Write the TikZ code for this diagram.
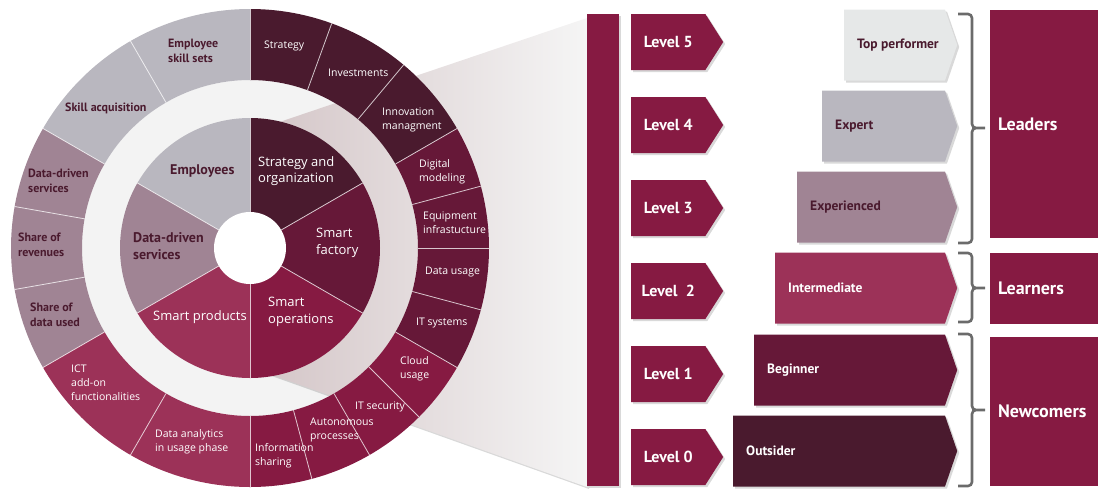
\documentclass[tikz,border=0pt]{standalone}
\usepackage{fontspec}
\setmainfont{PT Sans}
\newfontfamily\segfont{Open Sans}
\usetikzlibrary{shapes.symbols,shadows,positioning}
\definecolor{plumA}{HTML}{4A1A2E}
\definecolor{plumB}{HTML}{661838}
\definecolor{plumC}{HTML}{861A42}
\definecolor{plumD}{HTML}{9C3258}
\definecolor{mauve}{HTML}{A08494}
\definecolor{greyE}{HTML}{B9B7BF}
\definecolor{greyT}{HTML}{E6E8E8}
\definecolor{gapC}{HTML}{F3F3F3}
\definecolor{zoomL}{HTML}{D3C4C6}
\definecolor{zoomR}{HTML}{F5F5F5}
\definecolor{braceC}{HTML}{6B6B6B}
% annular sector: start, end, inner radius, outer radius, colour
\newcommand{\ringseg}[5]{%
\fill[#5] (#1:#3) arc[start angle=#1,end angle=#2,radius=#3] -- (#2:#4) arc[start angle=#2,end angle=#1,radius=#4] -- cycle;}
\begin{document}
\begin{tikzpicture}[x=1pt,y=-1pt,
every node/.style={inner sep=0pt},
sep/.style={draw=white,line width=0.8pt,opacity=0.75},
outlab/.style={font=\segfont\fontsize{10.5}{14}\selectfont,text=white,align=left,anchor=west},
outbold/.style={font=\bfseries\fontsize{12}{14.5}\selectfont,text=plumA,align=left,anchor=west},
inlab/.style={font=\segfont\fontsize{13}{16.5}\selectfont,text=white,align=left,anchor=west},
inbold/.style={font=\bfseries\fontsize{14}{17}\selectfont,text=plumA,align=left,anchor=west},
shade/.style={drop shadow={shadow xshift=2pt,shadow yshift=-2pt,opacity=0.3}},
levelsig/.style={%
signal,
signal to=east,
signal pointer angle=115,
fill=plumC,
minimum width=92pt,
minimum height=56pt,
anchor=west,
shade,
font=\bfseries\fontsize{16}{18}\selectfont,
text=white
},
skill/.style={%
signal,
signal to=east,
signal pointer angle=142,
minimum height=71pt,
anchor=west,
shade
},
skilltext/.style={font=\bfseries\fontsize{13.5}{16}\selectfont,anchor=west},
group/.style={%
fill=plumC,
text=white,
font=\bfseries\fontsize{18}{21}\selectfont,
minimum width=108pt,
text width=92pt,
inner xsep=8pt,
align=left
},
bracket/.style={draw=braceC,line width=2.6pt,rounded corners=4pt}]
\useasboundingbox (0,0) rectangle (1098,488);
% wheel background and zoom wedge
\begin{scope}[shift={(250,248)},y=1pt]
\fill[gapC] (0,0) circle[radius=168];
\end{scope}
\shade[left color=zoomL,right color=zoomR] (250,132) -- (587,18) -- (587,487) -- (250,367) -- cycle;
\begin{scope}[shift={(250,248)},y=1pt]
% outer ring
\foreach \a/\b/\c in {30/90/plumA,90/150/greyE,150/210/mauve,210/270/plumD,270/330/plumC,-30/30/plumB}{%
\ringseg{\a}{\b}{168}{239}{\c}
\ringseg{\a}{\b}{0}{130}{\c}
}
\foreach \a in {0,15,30,50,70,90,120,150,170,190,210,240,270,285,300,315,330,345}{%
\draw[sep] (\a:168) -- (\a:239);
}
\foreach \a in {30,90,...,330}{%
\draw[sep] (\a:36) -- (\a:130);
}
\fill[white] (0,0) circle[radius=36];
\end{scope}
% outer ring labels
\node[outbold] (skillsets) at (168,51) {Employee\\skill sets};
\node[outbold] (skillacq) at (65,108) {Skill acquisition};
\node[outbold] (dservices) at (28,181) {Data-driven\\services};
\node[outbold] (revenues) at (18,245) {Share of\\revenues};
\node[outbold] (dataused) at (30,315) {Share of\\data used};
\node[outlab] (ict) at (71,383) {ICT\\add-on\\functionalities};
\node[outlab] (analytics) at (155,442) {Data analytics\\in usage phase};
\node[outlab] (infoshare) at (255,456) {Information\\sharing};
\node[outlab] (autoproc) at (310,430) {Autonomous\\processes};
\node[outlab] (itsec) at (355,407) {IT security};
\node[outlab] (cloud) at (400,369) {Cloud\\usage};
\node[outlab] (itsys) at (416,323) {IT systems};
\node[outlab] (datause) at (425,272) {Data usage};
\node[outlab] (equip) at (423,223) {Equipment\\infrastucture};
\node[outlab] (digital) at (419,172) {Digital\\modeling};
\node[outlab] (innov) at (382,120) {Innovation\\managment};
\node[outlab] (invest) at (328,73) {Investments};
\node[outlab] (strat) at (264,46) {Strategy};
% inner pie labels
\node[inlab] (stratorg) at (258,171) {Strategy and\\organization};
\node[inlab] (factory) at (316,243) {Smart\\factory};
\node[inlab] (operations) at (268,312) {Smart\\operations};
\node[inlab] (products) at (153,317) {Smart products};
\node[inbold] (employees) at (170,171) {Employees};
\node[inbold] (services) at (133,246) {Data-driven\\services};
% levels
\node[fill=plumC,minimum width=32pt,minimum height=472pt,shade] (bar) at (603,250) {};
\foreach \l/\txt in {0/Level 0,1/Level 1,2/Level\ \ 2,3/Level 3,4/Level 4,5/Level 5}{%
\node[levelsig] (lv\l) at (631,{457-83*\l}) {\txt};
}
% skill steps
\foreach \x/\yc/\col/\tcol/\txt/\nm in {844/45/greyT/plumA/Top performer/top,822/126/greyE/plumA/Expert/expert,797/207/mauve/plumA/Experienced/experienced,775/288/plumD/white/Intermediate/intermediate,754/370/plumB/white/Beginner/beginner,733/451/plumA/white/Outsider/outsider}{%
\node[skill,fill=\col,minimum width={(957-\x)*1pt}] (\nm) at (\x,\yc) {};
\node[skilltext,text=\tcol,right=13pt of \nm.west] (\nm-t) {\txt};
}
% braces
\draw[bracket] (958,14) -- (972,14) -- (972,128) -- (985,128) (985,128) -- (972,128) -- (972,243) -- (958,243);
\draw[bracket] (958,253) -- (972,253) -- (972,288) -- (985,288) (985,288) -- (972,288) -- (972,322) -- (958,322);
\draw[bracket] (958,334) -- (972,334) -- (972,410) -- (985,410) (985,410) -- (972,410) -- (972,486) -- (958,486);
% groups
\node[group,minimum height=228pt] (leaders) at (1044,124) {Leaders};
\node[group,minimum height=71pt] (learners) at (1044,288.5) {Learners};
\node[group,minimum height=149pt] (newcomers) at (1044,411.5) {Newcomers};
\end{tikzpicture}
\end{document}
